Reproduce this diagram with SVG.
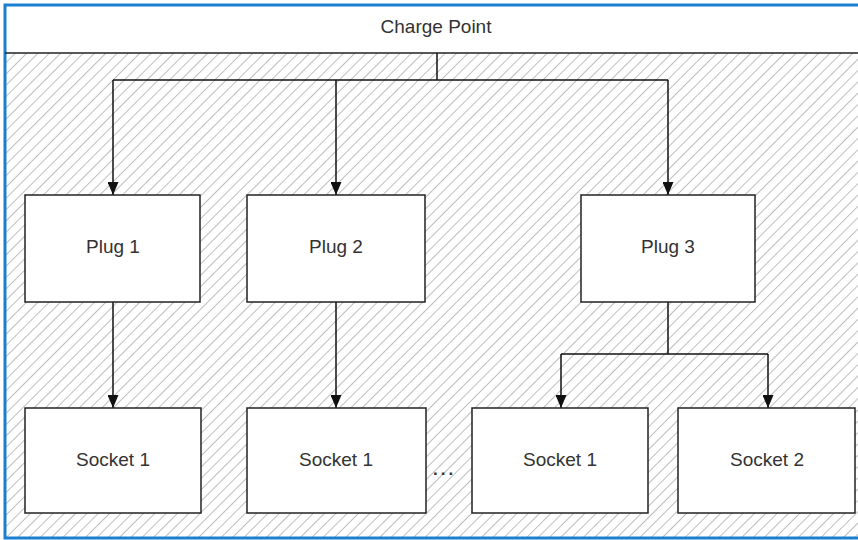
<svg xmlns="http://www.w3.org/2000/svg" width="858" height="540" viewBox="0 0 858 540">
<defs>
<pattern id="hatch" width="8" height="8" patternUnits="userSpaceOnUse" patternTransform="rotate(45)">
<line x1="0" y1="0" x2="0" y2="8" stroke="#a8a8a8" stroke-width="1.5"/>
</pattern>
<marker id="arr" markerWidth="13" markerHeight="11" refX="13" refY="5.5" orient="auto" markerUnits="userSpaceOnUse" viewBox="0 0 13 11">
<path d="M0,0 L13,5.5 L0,11 Z" fill="#111"/>
</marker>
</defs>
<style>
.box{fill:#fff;stroke:#222;stroke-width:1.5}
.lbl{font-family:"Liberation Sans",Arial,sans-serif;font-size:19px;fill:#333;text-anchor:middle}
.conn{fill:none;stroke:#111;stroke-width:1.5}
</style>
<rect x="0" y="0" width="858" height="540" fill="#fff"/>
<rect x="5" y="53" width="860" height="485" fill="url(#hatch)"/>
<g id="outer">
<rect x="5" y="5" width="860" height="533" fill="none" stroke="#1a7fd0" stroke-width="3"/>
<line x1="5" y1="53" x2="858" y2="53" stroke="#222" stroke-width="1.5"/>
</g>
<g id="chargepoint"><text class="lbl" x="436" y="33">Charge Point</text></g>
<g id="connectors">
<path class="conn" d="M437,53 V80"/>
<path class="conn" d="M113,80 H668"/>
<path class="conn" d="M113,80 V195" marker-end="url(#arr)"/>
<path class="conn" d="M336,80 V195" marker-end="url(#arr)"/>
<path class="conn" d="M668,80 V195" marker-end="url(#arr)"/>
<path class="conn" d="M113,302 V408" marker-end="url(#arr)"/>
<path class="conn" d="M336,302 V408" marker-end="url(#arr)"/>
<path class="conn" d="M668,302 V354"/>
<path class="conn" d="M561,354 H768"/>
<path class="conn" d="M561,354 V408" marker-end="url(#arr)"/>
<path class="conn" d="M768,354 V408" marker-end="url(#arr)"/>
</g>
<g id="plug1"><rect class="box" x="25" y="195" width="175" height="107"/><text class="lbl" x="113" y="253">Plug 1</text></g>
<g id="plug2"><rect class="box" x="247" y="195" width="178" height="107"/><text class="lbl" x="336" y="253">Plug 2</text></g>
<g id="plug3"><rect class="box" x="581" y="195" width="174" height="107"/><text class="lbl" x="668" y="253">Plug 3</text></g>
<g id="socket1a"><rect class="box" x="25" y="408" width="176" height="105"/><text class="lbl" x="113" y="466">Socket 1</text></g>
<g id="socket1b"><rect class="box" x="247" y="408" width="179" height="105"/><text class="lbl" x="336" y="466">Socket 1</text></g>
<g id="socket1c"><rect class="box" x="472" y="408" width="176" height="105"/><text class="lbl" x="560" y="466">Socket 1</text></g>
<g id="socket2"><rect class="box" x="678" y="408" width="177" height="105"/><text class="lbl" x="767" y="466">Socket 2</text></g>
<g id="ellipsis"><text x="433" y="475" style="font-family:'Liberation Sans',Arial,sans-serif;font-size:17px;font-weight:bold;fill:#333;letter-spacing:3px">...</text></g>
</svg>
